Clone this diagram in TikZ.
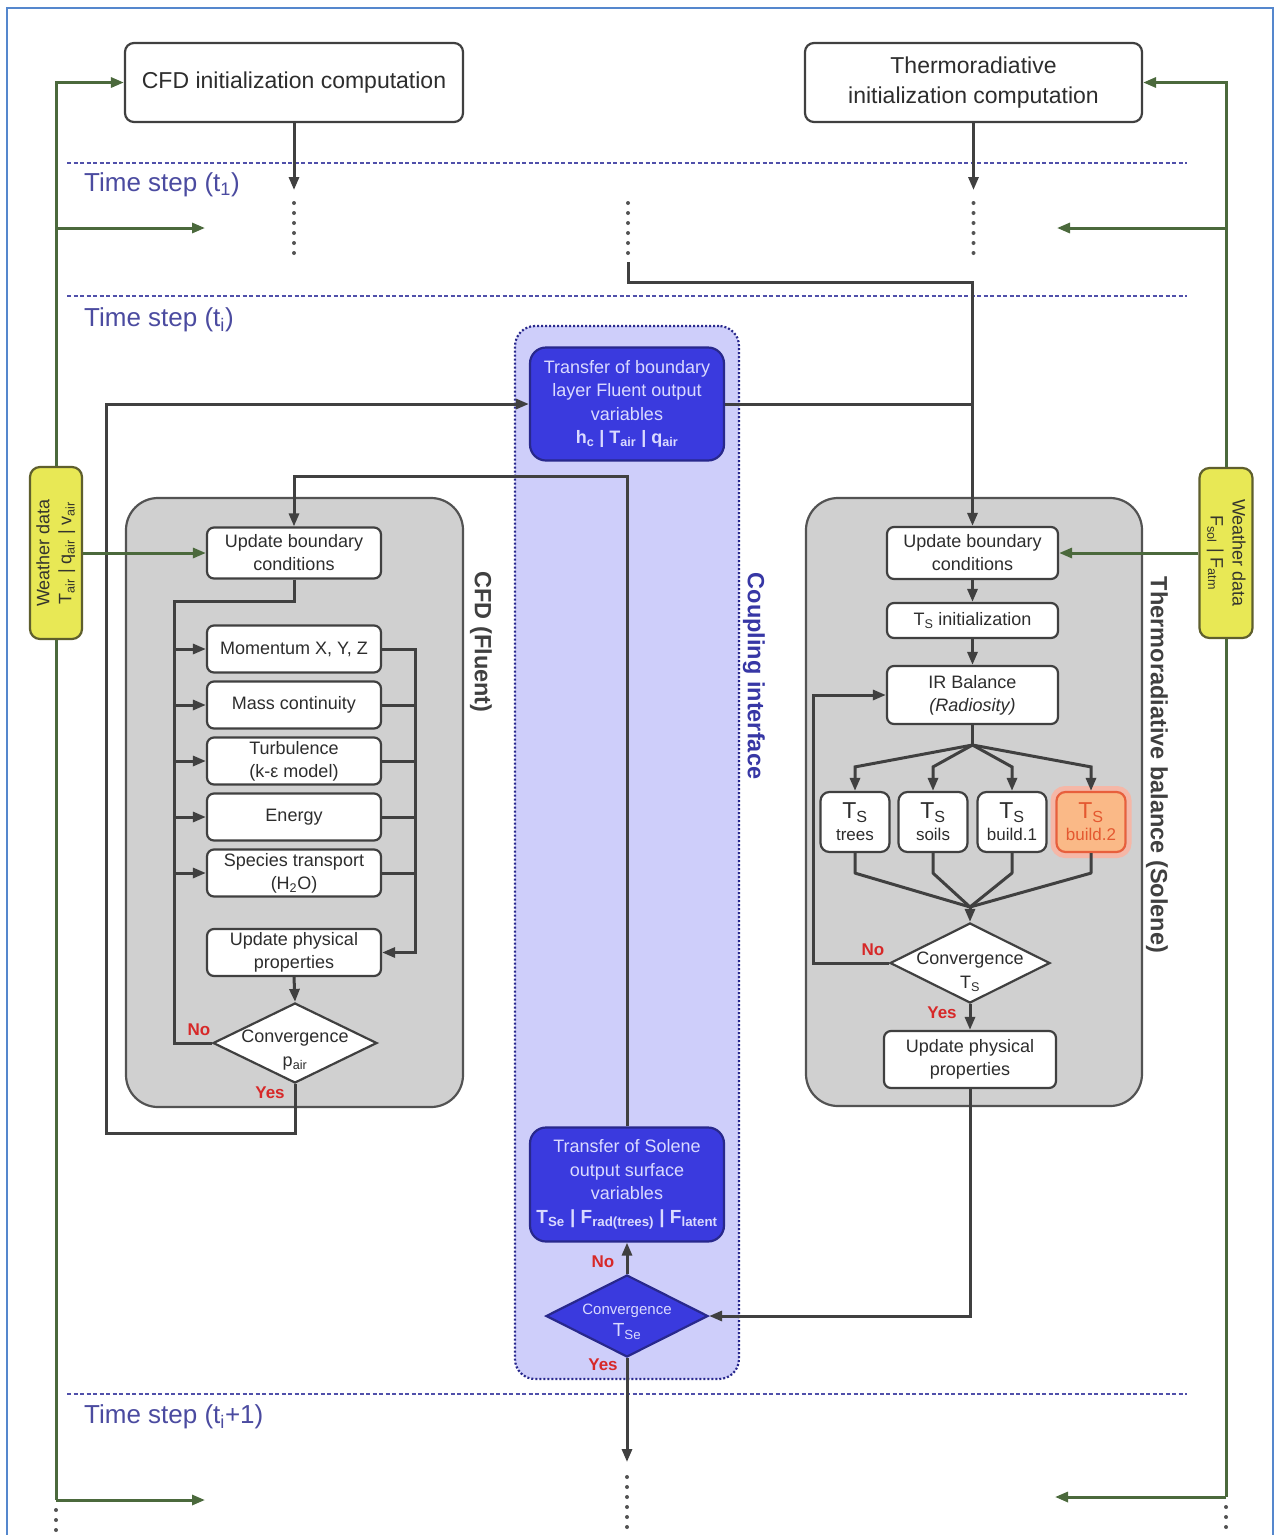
\documentclass[tikz,border=0pt]{standalone}
\usepackage{fontspec}
\setmainfont{Liberation Sans}
\usepackage{graphicx}
\usetikzlibrary{arrows.meta,shapes.geometric,calc}
\pgfdeclarelayer{bg}
\pgfsetlayers{bg,main}
\definecolor{ln}{RGB}{64,64,64}
\definecolor{grn}{RGB}{75,105,60}
\definecolor{ylw}{RGB}{232,232,85}
\definecolor{ylwd}{RGB}{95,95,45}
\definecolor{lav}{RGB}{206,206,250}
\definecolor{blu}{RGB}{58,58,222}
\definecolor{blud}{RGB}{40,40,140}
\definecolor{blut}{RGB}{218,218,255}
\definecolor{sepc}{RGB}{80,80,170}
\definecolor{tstep}{RGB}{75,75,160}
\definecolor{cplc}{RGB}{55,55,165}
\definecolor{lblred}{RGB}{215,40,40}
\definecolor{pan}{RGB}{208,208,208}
\definecolor{frm}{RGB}{85,135,205}
\definecolor{orf}{RGB}{250,185,135}
\definecolor{ord}{RGB}{232,95,60}
\definecolor{ort}{RGB}{228,88,48}
\definecolor{txt}{RGB}{45,45,45}
\newcommand\fz[2]{\fontsize{#1}{#2}\selectfont}
\begin{document}
\begin{tikzpicture}[x=1pt,y=-1pt,
  box/.style={draw=ln, line width=2.2pt, fill=white, rounded corners=7pt, align=center, text=txt, inner sep=0pt, font=\fz{18}{23}},
  tsbox/.style={box, minimum width=69pt, minimum height=60pt, rounded corners=9pt, font=\fz{17}{21}},
  bbox/.style={draw=blud, line width=2.2pt, fill=blu, rounded corners=16pt, align=center, text=blut, inner sep=0pt, font=\fz{18}{23.5}, minimum width=194pt},
  dia/.style={diamond, draw=ln, line width=2.2pt, fill=white, inner sep=0pt},
  diatext/.style={font=\fz{18}{24}, align=center, text=txt, inner sep=0pt},
  panel/.style={draw=ln!90, line width=2.2pt, fill=pan, rounded corners=32pt},
  wbox/.style={draw=ylwd, line width=2.2pt, fill=ylw, rounded corners=10pt, inner sep=0pt, text=txt!85!ylwd, font=\fz{18}{22}},
  con/.style={draw=ln, line width=3pt, -{Triangle[length=13pt,width=10pt]}},
  lin/.style={draw=ln, line width=3pt},
  gcon/.style={draw=grn, line width=3pt, -{Triangle[length=13pt,width=10pt]}},
  glin/.style={draw=grn, line width=3pt},
  sepline/.style={draw=sepc, line width=2.6pt, dash pattern=on 4pt off 2.5pt},
  dotcol/.style={draw=ln!90, line width=4pt, line cap=round, dash pattern=on 0pt off 10pt},
  tslab/.style={text=tstep, font=\fz{26}{30}, anchor=west, inner sep=0pt},
  yn/.style={text=lblred, font=\bfseries\fz{17}{20}, inner sep=0pt},
  plab/.style={font=\bfseries\fz{23.5}{28}, text=ln, rotate=-90, inner sep=0pt}]
\useasboundingbox (0,0) rectangle (1274,1535);
\begin{pgfonlayer}{bg}
\fill[white] (0,0) rectangle (1274,1535);
\node[panel, minimum width=337pt, minimum height=609pt] (pcfd) at (294.5,802.5) {};
\node[panel, minimum width=336pt, minimum height=608pt] (pth) at (974,802) {};
\node[draw=blud, line width=2.2pt, dash pattern=on 2pt off 2pt, fill=lav, rounded corners=20pt, minimum width=224pt, minimum height=1053pt] (cpl) at (627,852.5) {};
\end{pgfonlayer}
% frame
\draw[draw=frm, line width=2pt] (7,1545) -- (7,8) -- (1273,8) -- (1273,1545);
% separators
\draw[sepline] (67,163) -- (1187,163);
\draw[sepline] (67,296) -- (1187,296);
\draw[sepline] (67,1394) -- (1187,1394);
\node[tslab] (ts1) at (84,185) {Time step (t\textsubscript{1})};
\node[tslab] (tsi) at (84,320) {Time step (t\textsubscript{i})};
\node[tslab] (tsn) at (84,1417) {Time step (t\textsubscript{i}+1)};
% top boxes
\node[box, font=\fz{23}{28}, minimum width=338pt, minimum height=79pt, rounded corners=9pt] (cfdi) at (294,82.5) {CFD initialization computation};
\node[box, font=\fz{23}{30}, minimum width=337pt, minimum height=79pt, rounded corners=9pt] (thi) at (973.5,82.5) {Thermoradiative\\initialization computation};
% weather boxes
\node[wbox, minimum width=52pt, minimum height=172pt] (wl) at (56,553) {\rotatebox{90}{\begin{tabular}{@{}c@{}}Weather data\\T\textsubscript{air} | q\textsubscript{air} | v\textsubscript{air}\end{tabular}}};
\node[wbox, minimum width=53pt, minimum height=170pt] (wr) at (1226,553) {\rotatebox{-90}{\begin{tabular}{@{}c@{}}Weather data\\F\textsubscript{sol} | F\textsubscript{atm}\end{tabular}}};
% panel labels
\node[plab] (lcfd) at (481,642) {CFD (Fluent)};
\node[plab] (lth) at (1157,765) {Thermoradiative balance (Solene)};
\node[plab, text=cplc] (lcpl) at (754,676) {Coupling interface};
% CFD boxes
\node[box, minimum width=174pt, minimum height=51pt] (ubl) at (294,553) {Update boundary\\conditions};
\node[box, minimum width=174pt, minimum height=47pt] (mom) at (294,649) {Momentum X, Y, Z};
\node[box, minimum width=174pt, minimum height=47pt] (mass) at (294,705) {Mass continuity};
\node[box, minimum width=174pt, minimum height=47pt] (turb) at (294,761) {Turbulence\\(k-ε model)};
\node[box, minimum width=174pt, minimum height=47pt] (ener) at (294,817) {Energy};
\node[box, minimum width=174pt, minimum height=47pt] (spec) at (294,873) {Species transport\\(H\textsubscript{2}O)};
\node[box, minimum width=174pt, minimum height=47pt] (upl) at (294,952.5) {Update physical\\properties};
\node[dia, minimum width=164pt, minimum height=80pt] (dl) at (295,1043) {};
\node[diatext] (dlt) at (295,1050) {Convergence\\p\textsubscript{air}};
% Solene boxes
\node[box, minimum width=171pt, minimum height=52pt] (ubr) at (972.5,553) {Update boundary\\conditions};
\node[box, minimum width=171pt, minimum height=35pt] (tsin) at (972.5,620.5) {T\textsubscript{S} initialization};
\node[box, minimum width=171pt, minimum height=58pt] (ir) at (972.5,695) {IR Balance\\\textit{(Radiosity)}};
\node[tsbox] (tst) at (855,822) {{\fz{23}{24}T\textsubscript{S}}\\[1pt]trees};
\node[tsbox] (tss) at (933,822) {{\fz{23}{24}T\textsubscript{S}}\\[1pt]soils};
\node[tsbox] (tsb1) at (1012,822) {{\fz{23}{24}T\textsubscript{S}}\\[1pt]build.1};
\node[draw=ord!45, line width=5pt, rounded corners=12pt, minimum width=76pt, minimum height=67pt] (glow) at (1091,822) {};
\node[tsbox, fill=orf, draw=ord, text=ort] (tsb2) at (1091,822) {{\fz{23}{24}T\textsubscript{S}}\\[1pt]build.2};
\node[dia, minimum width=160pt, minimum height=80pt] (dr) at (970,963) {};
\node[diatext] (drt) at (970,972) {Convergence\\T\textsubscript{S}};
\node[box, minimum width=172pt, minimum height=57pt] (upr) at (970,1059.5) {Update physical\\properties};
% coupling boxes
\node[bbox, minimum height=113pt] (b1) at (627,404) {Transfer of boundary\\layer Fluent output\\variables\\\textbf{h\textsubscript{c} | T\textsubscript{air} | q\textsubscript{air}}};
\node[bbox, minimum height=114pt] (b2) at (627,1184.5) {Transfer of Solene\\output surface\\variables\\{\fz{19}{24}\textbf{T\textsubscript{Se} | F\textsubscript{rad(trees)} | F\textsubscript{latent}}}};
\node[dia, draw=blud, fill=blu, minimum width=162pt, minimum height=82pt] (bd) at (627,1316) {};
\node[text=blut, font=\fz{15}{22}, align=center, inner sep=0pt] (bdt) at (627,1322) {Convergence\\{\fz{19}{22}T\textsubscript{Se}}};
% yes/no
\node[yn] (no1) at (199,1030) {No};
\node[yn] (yes1) at (270,1093) {Yes};
\node[yn] (no2) at (873,950) {No};
\node[yn] (yes2) at (942,1013) {Yes};
\node[yn] (no3) at (603,1262) {No};
\node[yn] (yes3) at (603,1365) {Yes};
% coordinates
\coordinate (a1) at (294,190);
\coordinate (a2) at (973.5,190);
\coordinate (cc) at (628,262);
\coordinate (cr) at (972.5,282);
\coordinate (ly) at (106,1133);
\coordinate (ty) at (294,476);
\coordinate (lt) at (174,601);
\coordinate (lb) at (174,1043);
\coordinate (rt) at (415,649);
\coordinate (jt) at (972.5,745);
\coordinate (jb) at (970,907);
\coordinate (nl) at (813,963);
\coordinate (bo) at (627,1462);
\coordinate (g1) at (56,228);
\coordinate (g1e) at (205,228);
\coordinate (g2) at (56,1500);
\coordinate (g2e) at (205,1500);
\coordinate (g3) at (1226,228);
\coordinate (g3e) at (1057,228);
\coordinate (g4) at (1226,1497);
\coordinate (g4e) at (1055,1497);
% dots
\draw[dotcol] (294,203) -- (294,255);
\draw[dotcol] (973.5,203) -- (973.5,255);
\draw[dotcol] (628,203) -- (628,255);
\draw[dotcol] (627,1477) -- (627,1545);
\draw[dotcol] (56,1510) -- (56,1545);
\draw[dotcol] (1226,1507) -- (1226,1545);
% dark connectors
\draw[con] (cfdi.south) -- (a1);
\draw[con] (thi.south) -- (a2);
\draw[con] (cc) |- (cr) -- (ubr.north);
\draw[lin] (b1.east) -- (b1.east -| ubr.north);
\draw[con] (dl.south) |- (ly) |- (b1.west);
\draw[con] (b2.north) |- (ty) -- (ubl.north);
\draw[lin] (ubl.south) |- (lt) -- (lb) -- (dl.west);
\foreach \n in {mom,mass,turb,ener,spec} \draw[con] (\n.west -| lt) -- (\n.west);
\draw[con] (mom.east) -- (mom.east -| rt) |- (upl.east);
\foreach \n in {mass,turb,ener,spec} \draw[lin] (\n.east) -- (\n.east -| rt);
\draw[con] (upl.south) -- (dl.north);
\draw[con] (ubr.south) -- (tsin.north);
\draw[con] (tsin.south) -- (ir.north);
\draw[lin] (ir.south) -- (jt);
\foreach \n in {tst,tss,tsb1,tsb2} \draw[con] (jt) -- ($(\n.north)+(0,-24)$) -- (\n.north);
\foreach \n in {tst,tss,tsb1,tsb2} \draw[lin, line join=round] (\n.south) -- ($(\n.south)+(0,20)$) -- (jb);
\draw[con] (jb) -- (dr.north);
\draw[con] (dr.west) -- (nl) |- (ir.west);
\draw[con] (dr.south) -- (upr.north);
\draw[con] (upr.south) |- (bd.east);
\draw[con] (bd.north) -- (b2.south);
\draw[con] (bd.south) -- (bo);
% green connectors
\draw[gcon] (wl.north) |- (cfdi.west);
\draw[gcon] (g1) -- (g1e);
\draw[gcon] (wl.east) -- (ubl.west);
\draw[glin] (wl.south) -- (g2);
\draw[gcon] (g2) -- (g2e);
\draw[gcon] (wr.north) |- (thi.east);
\draw[gcon] (g3) -- (g3e);
\draw[gcon] (wr.west) -- (ubr.east);
\draw[glin] (wr.south) -- (g4);
\draw[gcon] (g4) -- (g4e);
\end{tikzpicture}
\end{document}
